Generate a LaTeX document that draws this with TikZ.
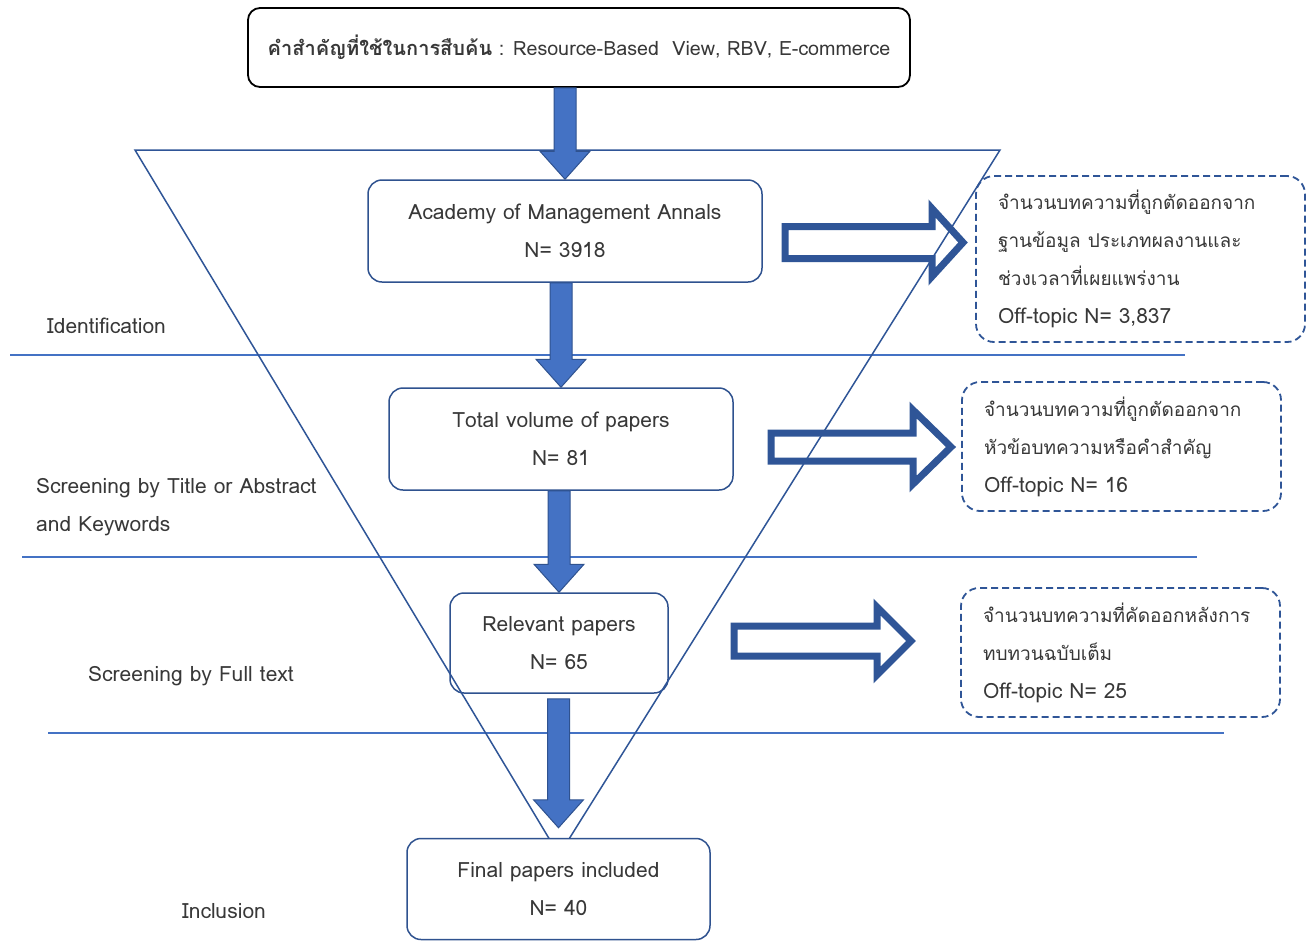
\documentclass[tikz,border=0pt]{standalone}
\usepackage{fontspec}
\setmainfont{Loma}[Script=Thai]
\usetikzlibrary{calc}
\definecolor{boxblue}{HTML}{2F528F}
\definecolor{arrfill}{HTML}{4472C4}
\definecolor{linblue}{HTML}{4472C4}
\definecolor{dkblue}{HTML}{2F5597}
\definecolor{txt}{HTML}{383838}
\newcommand\thsz{\fontsize{19}{38}\selectfont}
\newcommand\downarr[2]{%
  \path[fillarrow] let \p1=(#1), \p2=(#2) in
    (\x2-11pt,\y1) -- (\x2+11pt,\y1) -- (\x2+11pt,\y2+28pt) -- (\x2+25pt,\y2+28pt)
    -- (\x2,\y2) -- (\x2-25pt,\y2+28pt) -- (\x2-11pt,\y2+28pt) -- cycle;}
\newcommand\outarrow[5]{%
  \draw[outarrowstyle] let \p1=(#1), \p2=(#2) in
    (\x1,\y2+#3) -- (\x2-#4,\y2+#3) -- (\x2-#4,\y2+#5) -- (\x2,\y2)
    -- (\x2-#4,\y2-#5) -- (\x2-#4,\y2-#3) -- (\x1,\y2-#3) -- cycle;}
\begin{document}
\begin{tikzpicture}[x=1pt,y=-1pt,
  every node/.style={text=txt,font=\fontsize{21}{38}\selectfont},
  mainbox/.style={draw=boxblue, line width=1.5pt, rounded corners=14pt, fill=white,
    align=center, inner sep=0pt},
  topbox/.style={draw=black, line width=1.8pt, rounded corners=12pt, fill=white,
    align=center, inner sep=0pt},
  dashbox/.style={draw=dkblue, line width=1.8pt, dash pattern=on 7pt off 4pt,
    rounded corners=18pt, align=left, inner xsep=22pt, inner ysep=0pt},
  sidelabel/.style={anchor=west, inner sep=0pt, align=left},
  fillarrow/.style={fill=arrfill, draw=boxblue, line width=1pt},
  outarrowstyle/.style={draw=dkblue, line width=7pt, miter limit=10},
  hline/.style={draw=linblue, line width=1.3pt},
  funnel/.style={draw=dkblue, line width=1.5pt}]
\useasboundingbox (0,0) rectangle (1313,940);
\fill[white] (0,0) rectangle (1313,940);

% separators
\draw[hline] (10,355) -- (1185,355);
\draw[hline] (22,557) -- (1197,557);
\draw[hline] (48,733) -- (1224,733);

% side labels
\node[sidelabel] (lid) at (47,326) {Identification};
\node[sidelabel] (lst) at (36,507) {Screening by Title or Abstract\\and Keywords};
\node[sidelabel] (lsf) at (88,676) {Screening by Full text};
\node[sidelabel] (lin) at (182,911) {Inclusion};

% boxes
\node[topbox, minimum width=662pt, minimum height=79pt] (top) at (579,47.5)
  {{\fontsize{20}{38}\selectfont\bfseries คำสำคัญที่ใช้ในการสืบค้น}\fontsize{19.7}{38}\selectfont{} : Resource-Based~ View, RBV, E-commerce};
\node[mainbox, minimum width=394pt, minimum height=102pt] (acad) at (565,231)
  {Academy of Management Annals\\N= 3918};
\node[mainbox, minimum width=344pt, minimum height=102pt] (total) at (561,439)
  {Total volume of papers\\N= 81};
\node[mainbox, minimum width=218pt, minimum height=100pt] (rel) at (559,643)
  {Relevant papers\\N= 65};

\node[dashbox, text width=285pt, minimum height=166pt] (d1) at (1140.5,259)
  {{\thsz จำนวนบทความที่ถูกตัดออกจาก}\\{\thsz ฐานข้อมูล ประเภทผลงานและ}\\{\thsz ช่วงเวลาที่เผยแพร่งาน}\\Off-topic N= 3,837};
\node[dashbox, text width=275pt, minimum height=129pt] (d2) at (1121.5,446.5)
  {{\thsz จำนวนบทความที่ถูกตัดออกจาก}\\{\thsz หัวข้อบทความหรือคำสำคัญ}\\Off-topic N= 16};
\node[dashbox, text width=275pt, minimum height=129pt] (d3) at (1120.5,652.5)
  {{\thsz จำนวนบทความที่คัดออกหลังการ}\\{\thsz ทบทวนฉบับเต็ม}\\Off-topic N= 25};

% outline arrows
\coordinate (o1s) at (785,242.5); \coordinate (o1t) at (963,242.5);
\coordinate (o2s) at (771,447); \coordinate (o2t) at (951,447);
\coordinate (o3s) at (734,641); \coordinate (o3t) at (911,641);
\outarrow{o1s}{o1t}{16pt}{31pt}{34pt}
\outarrow{o2s}{o2t}{14pt}{38pt}{37pt}
\outarrow{o3s}{o3t}{15pt}{34pt}{34pt}

% funnel
\coordinate (ftl) at (135,150);
\coordinate (ftr) at (1000,150);
\coordinate (fap) at (559,855);
\draw[funnel] (ftl) -- (ftr) -- (fap) -- cycle;

\node[mainbox, minimum width=303pt, minimum height=101pt] (final) at (558.5,889)
  {Final papers included\\N= 40};

% flow arrows
\downarr{top.south -| acad.north}{acad.north}
\downarr{acad.south -| total.north}{total.north}
\downarr{total.south -| rel.north}{rel.north}
\coordinate (a4s) at ($(rel.south)+(0,5)$);
\coordinate (a4t) at ($(final.north)+(0,-10)$);
\downarr{a4s}{a4t}
\end{tikzpicture}
\end{document}
